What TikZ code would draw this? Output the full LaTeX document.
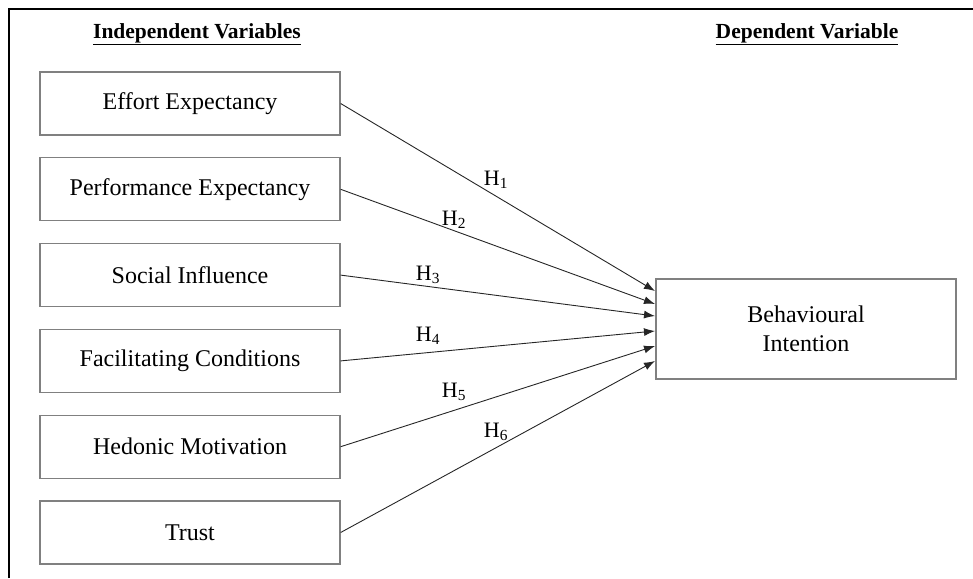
\documentclass[tikz,border=0pt]{standalone}
\usepackage{fontspec}
\setmainfont{Liberation Serif}
\usetikzlibrary{arrows.meta}
\begin{document}
\begin{tikzpicture}[x=1pt,y=-1pt,
    varbox/.style={draw=black!50, line width=1.3pt, minimum width=300pt,
        minimum height=63pt, inner sep=0pt, align=center,
        font=\fontsize{24}{29}\selectfont},
    header/.style={font=\fontsize{21.5}{25}\selectfont\bfseries},
    hyp/.style={-{Latex[length=11pt,width=8pt]}, line width=0.9pt, draw=black!85},
    hlabel/.style={font=\fontsize{22}{26}\selectfont, inner sep=0pt}]
    \useasboundingbox (0,0) rectangle (973,578);
    \draw[line width=2pt] (9,578) -- (9,9) -- (973,9);

    %% headings
    \node[header] (indep) at (197,34) {\underline{Independent Variables}};
    \node[header] (dep) at (807,34) {\underline{Dependent Variable}};

    %% independent variables
    \node[varbox] (effort) at (190,103.5) {Effort Expectancy};
    \node[varbox] (perf) at (190,189.3) {Performance Expectancy};
    \node[varbox] (social) at (190,275.1) {Social Influence};
    \node[varbox] (facil) at (190,360.9) {Facilitating Conditions};
    \node[varbox] (hedonic) at (190,446.7) {Hedonic Motivation};
    \node[varbox] (trust) at (190,532.5) {Trust};

    %% dependent variable
    \node[varbox, minimum height=100pt] (intent) at (806,329) {Behavioural\\Intention};

    %% arrow ends on the left side of the box
    \coordinate (e1) at (655,291);
    \coordinate (e2) at (655,304);
    \coordinate (e3) at (655,316);
    \coordinate (e4) at (655,331);
    \coordinate (e5) at (655,346);
    \coordinate (e6) at (655,361);

    \draw[hyp] (effort.east) -- (e1);
    \draw[hyp] (perf.east) -- (e2);
    \draw[hyp] (social.east) -- (e3);
    \draw[hyp] (facil.east) -- (e4);
    \draw[hyp] (hedonic.east) -- (e5);
    \draw[hyp] (trust.east) -- (e6);

    %% hypothesis labels
    \node[hlabel] (h1) at (496,180) {H\textsubscript{1}};
    \node[hlabel] (h2) at (454,220) {H\textsubscript{2}};
    \node[hlabel] (h3) at (428,275) {H\textsubscript{3}};
    \node[hlabel] (h4) at (428,336) {H\textsubscript{4}};
    \node[hlabel] (h5) at (454,392) {H\textsubscript{5}};
    \node[hlabel] (h6) at (496,432) {H\textsubscript{6}};
\end{tikzpicture}
\end{document}
